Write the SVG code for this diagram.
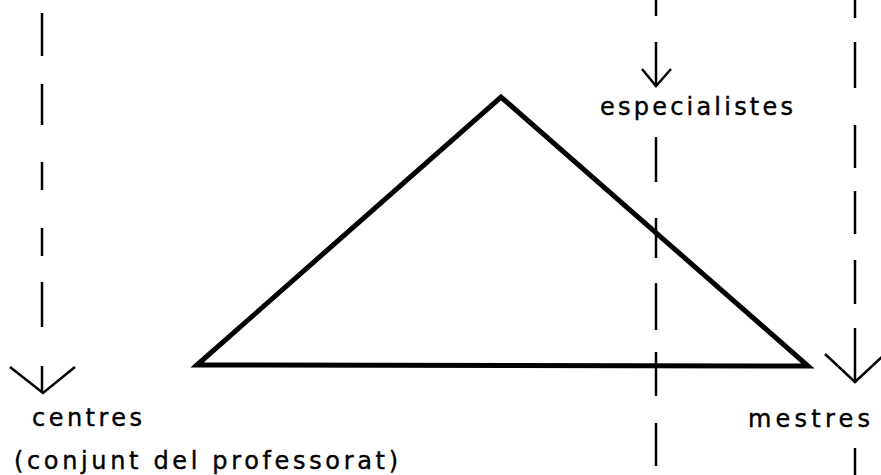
<svg xmlns="http://www.w3.org/2000/svg" width="881" height="475" viewBox="0 0 881 475">
<style>
.lbl{font-family:"DejaVu Sans","Liberation Sans",Arial,sans-serif;font-size:24px;fill:#000;stroke:#000;stroke-width:0.4}
.dash{fill:none;stroke:#000;stroke-width:2.5}
.head{fill:none;stroke:#000;stroke-width:2.5;stroke-linejoin:miter}
.tri{fill:none;stroke:#000;stroke-width:5;stroke-linejoin:miter}
</style>
<rect width="881" height="475" fill="#fff"/>
<g id="triangle">
<polygon class="tri" points="197,365 501,97 808,366"/>
</g>
<g id="connectors">
<path class="dash" d="M42,13V56M42,84V125M42,162V190M42,228V256M42,282V327M42,366V393"/>
<polyline class="head" points="10,367 43,393 75,367"/>
<path class="dash" d="M656,0V16M656,42V86M656,137V182M656,218V258M656,283V330M656,352V396M656,423V466"/>
<polyline class="head" points="642,69 656,86 671,69"/>
<path class="dash" d="M855,0V18M855,42V88M855,125V168M855,191V234M855,260V304M855,328V382M855,448V475"/>
<polyline class="head" points="825,354 855,382 885,354"/>
</g>
<g id="centres">
<text class="lbl" x="32" y="426" textLength="110" lengthAdjust="spacing">centres</text>
<text class="lbl" x="14" y="469" textLength="384" lengthAdjust="spacing">(conjunt del professorat)</text>
</g>
<g id="especialistes">
<text class="lbl" x="600" y="115" textLength="193" lengthAdjust="spacing">especialistes</text>
</g>
<g id="mestres">
<text class="lbl" x="748" y="427" textLength="122" lengthAdjust="spacing">mestres</text>
</g>
</svg>
